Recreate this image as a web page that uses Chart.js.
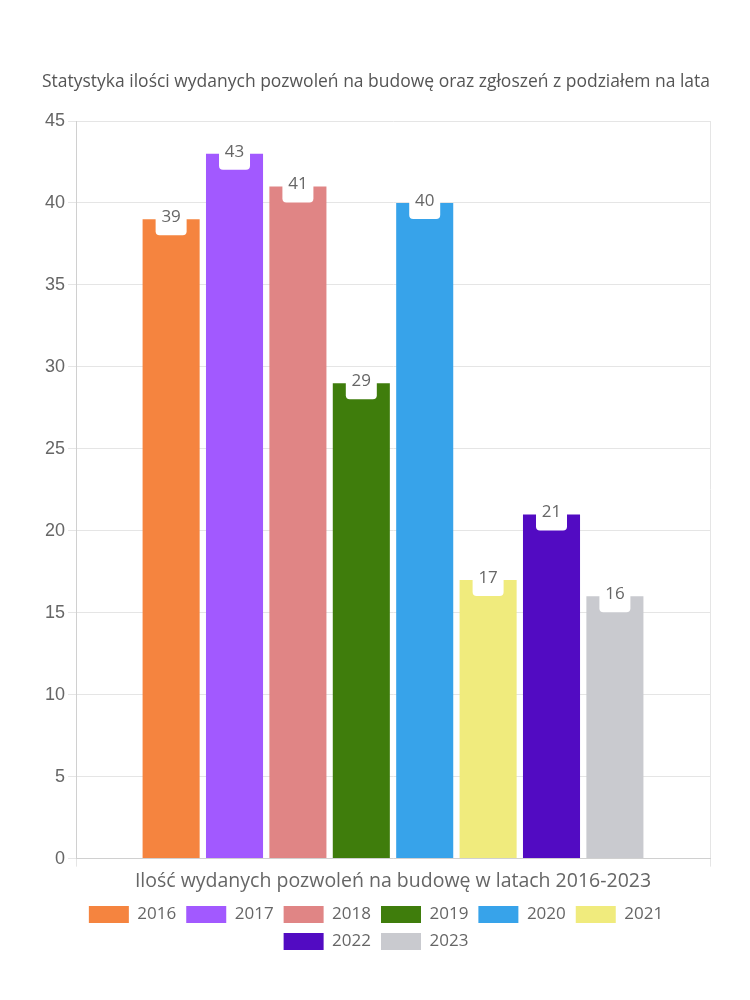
<!DOCTYPE html>
<html>
<head>
<meta charset="utf-8">
<script src="https://cdn.jsdelivr.net/npm/chart.js@4"></script>
<style>
  body { margin: 0; background: #fff; }
  #wrap { width: 750px; height: 1000px; position: relative; }
</style>
</head>
<body>
<div id="wrap"><canvas id="permitsChart"></canvas></div>
<script>
////////////data////////////
var categories = ['Ilość wydanych pozwoleń na budowę w latach 2016-2023'];
var years = ['2016', '2017', '2018', '2019', '2020', '2021', '2022', '2023'];
var permits = [39, 43, 41, 29, 40, 17, 21, 16];
var barColors = ['#f5843f', '#a259ff', '#e08585', '#3f7d0c', '#37a3ea', '#f0eb7d', '#520bc2', '#c9cacf'];
var yTicks = [0, 5, 10, 15, 20, 25, 30, 35, 40, 45];

var textFont = 'Open Sans';

//one dataset per year, single category
var datasets = [];
years.forEach(function(year, i) {
	datasets.push({
		label: year,
		data: [permits[i]],
		backgroundColor: barColors[i],
		borderWidth: 0
	});
});

////////////value labels (white tab at top of each bar)////////////
var valueLabels = {
	id: 'valueLabels',
	afterDatasetsDraw: function(chart) {
		var ctx = chart.ctx;
		chart.data.datasets.forEach(function(ds, i) {
			var meta = chart.getDatasetMeta(i);
			meta.data.forEach(function(bar, j) {
				ctx.save();
				ctx.fillStyle = '#ffffff';
				ctx.beginPath();
				ctx.roundRect(bar.x - 15.5, bar.y - 14, 31, 30, 4);
				ctx.fill();
				ctx.fillStyle = '#666666';
				ctx.font = '17px ' + textFont;
				ctx.textAlign = 'center';
				ctx.textBaseline = 'middle';
				ctx.fillText(String(ds.data[j]), bar.x, bar.y - 2);
				ctx.restore();
			});
		});
	}
};

////////////create chart////////////
var myChart = new Chart(document.getElementById('permitsChart'), {
	type: 'bar',
	data: {
		labels: categories,
		datasets: datasets
	},
	plugins: [valueLabels],
	options: {
		responsive: true,
		maintainAspectRatio: false,
		animation: false,
		layout: {
			padding: { top: 57, left: 42, right: 40, bottom: 40 }
		},
		plugins: {
			title: {
				display: true,
				text: 'Statystyka ilości wydanych pozwoleń na budowę oraz zgłoszeń z podziałem na lata',
				color: '#555555',
				font: { family: textFont, size: 17.5, weight: 'normal' },
				padding: { top: 15, bottom: 28 }
			},
			legend: {
				position: 'bottom',
				labels: {
					boxWidth: 40,
					boxHeight: 17,
					color: '#666666',
					font: { family: textFont, size: 17 },
					padding: 10
				}
			},
			tooltip: { enabled: false }
		},
		scales: {
			x: {
				grid: { color: '#e5e5e5', tickLength: 8 },
				border: { color: '#d0d0d0' },
				ticks: { color: '#666666', font: { family: textFont, size: 19.5 } }
			},
			y: {
				min: 0,
				max: 45,
				afterBuildTicks: function(axis) {
					axis.ticks = yTicks.map(function(v) { return { value: v }; });
				},
				grid: { color: '#e5e5e5', tickLength: 8 },
				border: { color: '#d0d0d0' },
				ticks: { color: '#666666', font: { family: 'Liberation Sans', size: 18 } }
			}
		}
	}
}); //end new Chart
</script>
</body>
</html>
